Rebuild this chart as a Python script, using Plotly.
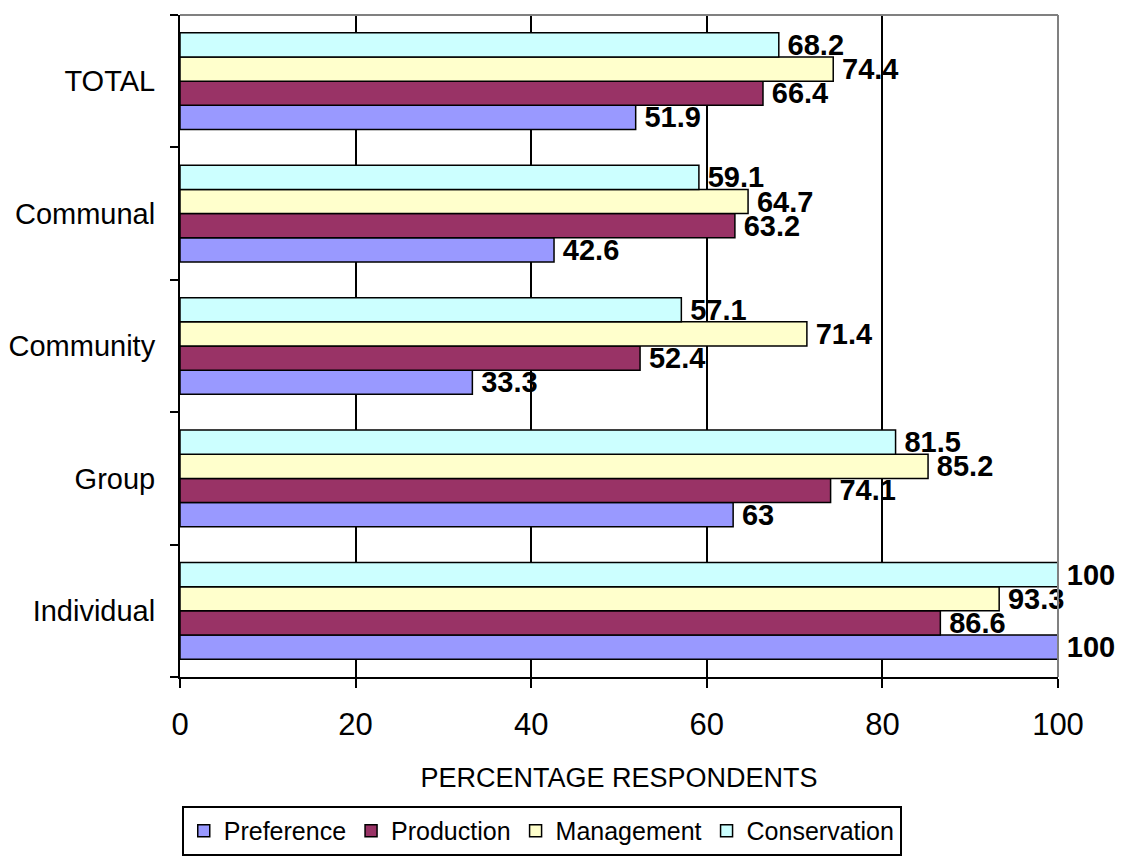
import plotly.graph_objects as go

categories = ["Individual", "Group", "Community", "Communal", "TOTAL"]
series_names = ["Preference", "Production", "Management", "Conservation"]
preference = [100, 63, 33.3, 42.6, 51.9]
production = [86.6, 74.1, 52.4, 63.2, 66.4]
management = [93.3, 85.2, 71.4, 64.7, 74.4]
conservation = [100, 81.5, 57.1, 59.1, 68.2]
x_ticks = [0, 20, 40, 60, 80, 100]

colors = ["#9999FF", "#993366", "#FFFFCC", "#CCFFFF"]
values = [preference, production, management, conservation]

FONT = "Liberation Sans, Arial, sans-serif"

fig = go.Figure()
for name, vals, col in zip(series_names, values, colors):
    fig.add_trace(go.Bar(
        y=categories, x=vals, name=name, orientation="h",
        marker=dict(color=col, line=dict(color="black", width=1.5)),
        text=[f"\u2009{v:g}" for v in vals],
        textposition="outside",
        textfont=dict(family=FONT, size=29, color="black", weight="bold"),
        constraintext="none",
        cliponaxis=False,
    ))

fig.update_layout(
    width=1122, height=860,
    margin=dict(l=180, r=64, t=15, b=183, autoexpand=False),
    barmode="group", bargap=0.27, bargroupgap=0,
    plot_bgcolor="white", paper_bgcolor="white",
    font=dict(family=FONT, size=29, color="black"),
    legend=dict(
        orientation="h", x=0.002, y=-0.2326, xanchor="left", yanchor="middle",
        bordercolor="black", borderwidth=2,
        font=dict(family=FONT, size=25, color="black"),
        traceorder="normal", itemwidth=30,
    ),
    xaxis=dict(
        range=[0, 100], tickvals=x_ticks, showgrid=True, gridcolor="black", gridwidth=2,
        showline=True, linecolor="black", linewidth=2,
        ticks="outside", ticklen=9, tickwidth=2, tickcolor="black",
        tickfont=dict(size=31), zeroline=False, automargin=False,
        ticklabelstandoff=10,
        title=dict(text="PERCENTAGE RESPONDENTS", font=dict(size=27), standoff=27),
    ),
    yaxis=dict(
        type="category", categoryorder="array", categoryarray=categories,
        showline=True, linecolor="black", linewidth=2,
        ticks="outside", ticklen=8, tickwidth=2, tickcolor="black",
        tickson="boundaries", showgrid=False, automargin=False,
        tickfont=dict(size=29), ticklabelstandoff=17,
    ),
    shapes=[
        dict(type="line", xref="paper", yref="paper", x0=0, x1=1, y0=1, y1=1,
             line=dict(color="#808080", width=2)),
        dict(type="line", xref="paper", yref="paper", x0=1, x1=1, y0=0, y1=1,
             line=dict(color="#808080", width=2)),
    ],
)

fig.write_html("out.html", config={"displayModeBar": False})

with open("out.html", "r", encoding="utf-8") as f:
    html = f.read()
html = html.replace("<body>", '<body style="margin:0;padding:0;">', 1)
html = html.replace("<head>", "<head><style>html,body{margin:0;padding:0;overflow:hidden;}</style>", 1)
with open("out.html", "w", encoding="utf-8") as f:
    f.write(html)
